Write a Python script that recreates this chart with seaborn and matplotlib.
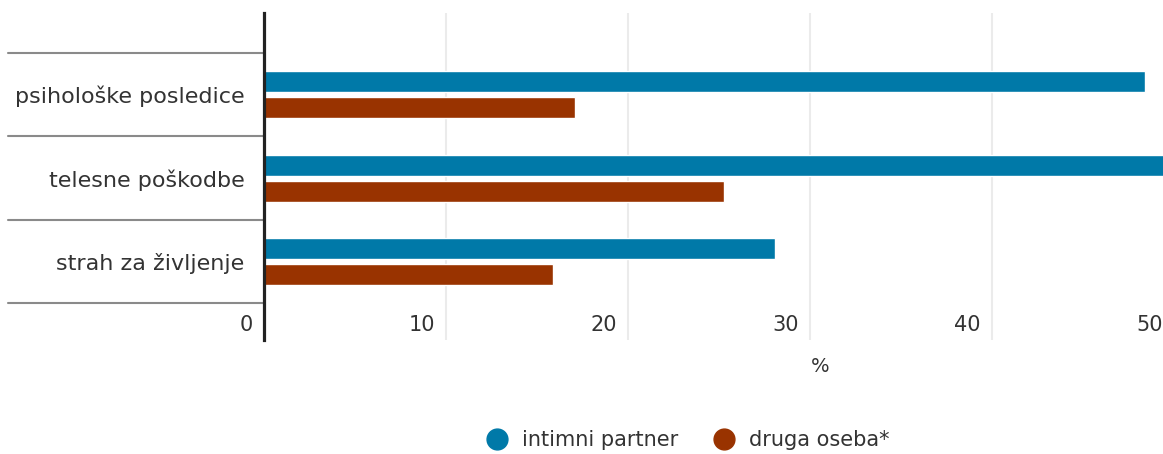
import numpy as np
import pandas as pd
import seaborn as sns
import matplotlib.pyplot as plt
from matplotlib.transforms import blended_transform_factory
from matplotlib.lines import Line2D

# Podatki
kategorije = ['psihološke posledice', 'telesne poškodbe', 'strah za življenje']
intimni_partner = [48.4, 51.0, 28.1]
druga_oseba = [17.1, 25.3, 15.9]
serije = ['intimni partner', 'druga oseba*']
x_ticks = [0, 10, 20, 30, 40, 50]

barve = ['#0079A8', '#993300']

df = pd.DataFrame({
    'kategorija': kategorije * 2,
    'vrednost': intimni_partner + druga_oseba,
    'serija': [serije[0]] * 3 + [serije[1]] * 3,
})

sns.set_theme(style='white')
plt.rcParams['font.family'] = ['DejaVu Sans']
plt.rcParams['text.color'] = '#333333'

fig = plt.figure(figsize=(11.63, 4.54), dpi=100)
ax = fig.add_axes([0.227, 0.2511, 0.7825, 0.7203])

sns.barplot(data=df, x='vrednost', y='kategorija', hue='serija', orient='h',
            palette=barve, saturation=1, width=0.624, gap=0.19, legend=False,
            ax=ax)

ax.set_xlim(0, 50)
ax.set_ylim(2.94, -0.98)

# mreža
for t in x_ticks[1:]:
    ax.axvline(t, color='#ebebeb', lw=1.5, zorder=0)

for s in ['top', 'right', 'bottom']:
    ax.spines[s].set_visible(False)
ax.spines['left'].set_color('#222222')
ax.spines['left'].set_linewidth(2.3)

ax.set_xticks([])
ax.set_ylabel('')
ax.set_xlabel('')
ax.tick_params(axis='y', length=0, pad=14, labelsize=16, labelcolor='#333333')

# vrednosti na osi x znotraj grafa
trans = blended_transform_factory(ax.transData, ax.transAxes)
for t in x_ticks:
    ax.annotate(str(t), xy=(t, 0), xycoords=trans, xytext=(-8, 11),
                textcoords='offset points', ha='right', va='center',
                fontsize=15, color='#333333')

# ločilne črte med kategorijami
trans_y = blended_transform_factory(ax.transAxes, ax.transData)
for yy in np.arange(len(kategorije) + 1) - 0.5:
    ax.plot([-0.281, 0], [yy, yy], transform=trans_y, color='#8a8a8a',
            lw=1.5, clip_on=False, zorder=1)

ax.text(0.611, -0.08, '%', transform=ax.transAxes, ha='center', va='center',
        fontsize=14, color='#333333')

handles = [Line2D([], [], marker='o', ls='', markersize=15, color=c) for c in barve]
fig.legend(handles, serije, loc='center', bbox_to_anchor=(0.587, 0.03),
           ncol=2, frameon=False, fontsize=15, handletextpad=0.2,
           columnspacing=1.2)

plt.savefig('out.png', dpi=100)
